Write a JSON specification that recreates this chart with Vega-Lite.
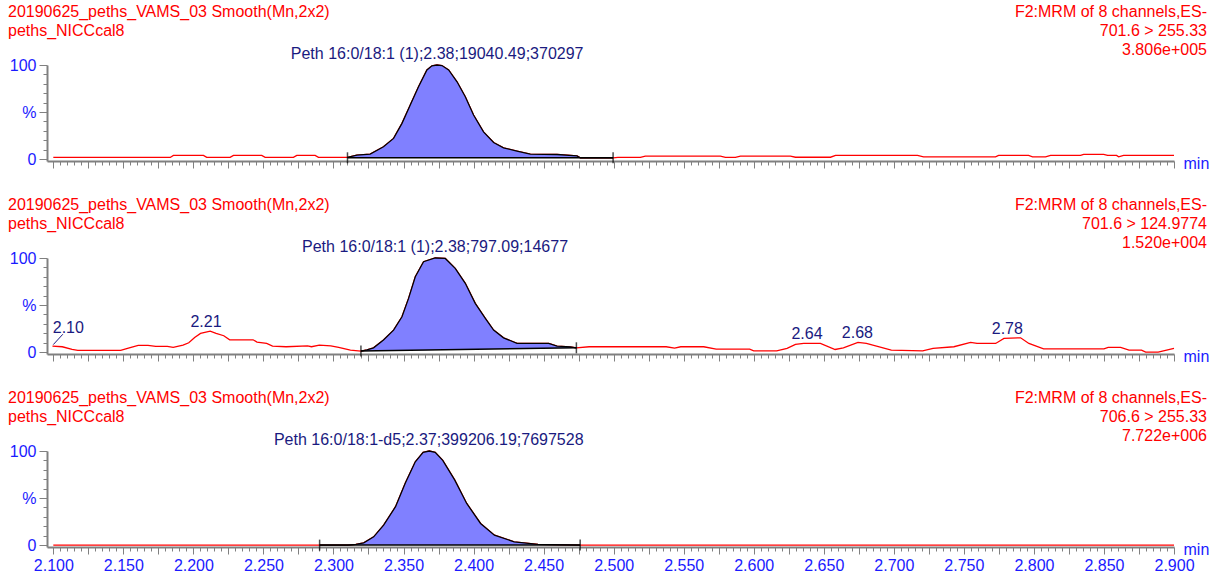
{
  "$schema": "https://vega.github.io/schema/vega-lite/v6.json",
  "padding": {"left": 8, "top": 4, "right": 5, "bottom": 5},
  "background": "white",
  "config": {
    "view": {"stroke": null},
    "font": "Liberation Sans",
    "axis": {"domainColor": "#808080", "domainWidth": 2, "tickColor": "#808080", "tickWidth": 1, "labelColor": "#1a1aff", "labelFontSize": 16, "labelFont": "Liberation Sans", "titleColor": "#1a1aff", "titleFontSize": 16, "titleFontWeight": "normal", "titleFont": "Liberation Sans", "grid": false},
    "text": {"font": "Liberation Sans", "fontSize": 16}
  },
  "datasets": {
    "trace": [
      {"p":1,"rt":2.100,"i":1.8},{"p":1,"rt":2.1835,"i":1.8},{"p":1,"rt":2.1857,"i":3.9},{"p":1,"rt":2.2072,"i":3.9},{"p":1,"rt":2.2095,"i":1.8},{"p":1,"rt":2.2262,"i":1.8},{"p":1,"rt":2.2286,"i":3.9},{"p":1,"rt":2.2488,"i":3.9},{"p":1,"rt":2.2512,"i":1.8},{"p":1,"rt":2.2714,"i":1.8},{"p":1,"rt":2.2738,"i":3.9},{"p":1,"rt":2.2869,"i":3.9},{"p":1,"rt":2.2893,"i":1.8},
      {"p":1,"rt":2.3100,"i":1.8,"base":1.4},{"p":1,"rt":2.3167,"i":4.3,"base":1.4},{"p":1,"rt":2.3262,"i":5.3,"base":1.4},{"p":1,"rt":2.3357,"i":13.1,"base":1.4},{"p":1,"rt":2.3429,"i":22.0,"base":1.4},{"p":1,"rt":2.3489,"i":38.0,"base":1.4},{"p":1,"rt":2.3548,"i":57.4,"base":1.4},{"p":1,"rt":2.3607,"i":76.9,"base":1.4},{"p":1,"rt":2.3667,"i":94.7,"base":1.4},{"p":1,"rt":2.3703,"i":99.2,"base":1.4},{"p":1,"rt":2.3739,"i":100,"base":1.4},{"p":1,"rt":2.3774,"i":99.4,"base":1.4},{"p":1,"rt":2.3822,"i":94.7,"base":1.4},{"p":1,"rt":2.3882,"i":82.2,"base":1.4},{"p":1,"rt":2.3941,"i":66.3,"base":1.4},{"p":1,"rt":2.4000,"i":46.8,"base":1.4},{"p":1,"rt":2.4071,"i":29.0,"base":1.4},{"p":1,"rt":2.4143,"i":17.7,"base":1.4},{"p":1,"rt":2.4214,"i":12.0,"base":1.4},{"p":1,"rt":2.4310,"i":8.5,"base":1.4},{"p":1,"rt":2.4405,"i":5.3,"base":1.4},{"p":1,"rt":2.4596,"i":4.9,"base":1.4},{"p":1,"rt":2.4738,"i":3.5,"base":1.4},{"p":1,"rt":2.4762,"i":1.4,"base":1.4},{"p":1,"rt":2.4996,"i":1.4,"base":1.4},
      {"p":1,"rt":2.5030,"i":1.8},{"p":1,"rt":2.5191,"i":1.8},{"p":1,"rt":2.5226,"i":3.2},{"p":1,"rt":2.5762,"i":3.2},{"p":1,"rt":2.5798,"i":1.8},{"p":1,"rt":2.5869,"i":1.8},{"p":1,"rt":2.5905,"i":3.2},{"p":1,"rt":2.6262,"i":3.2},{"p":1,"rt":2.6298,"i":2.0},{"p":1,"rt":2.6548,"i":2.0},{"p":1,"rt":2.6584,"i":3.9},{"p":1,"rt":2.7169,"i":3.9},{"p":1,"rt":2.7212,"i":2.4},{"p":1,"rt":2.7726,"i":2.4},{"p":1,"rt":2.7748,"i":3.9},{"p":1,"rt":2.7962,"i":3.9},{"p":1,"rt":2.7990,"i":2.4},{"p":1,"rt":2.8083,"i":2.4},{"p":1,"rt":2.8119,"i":3.9},{"p":1,"rt":2.8333,"i":3.9},{"p":1,"rt":2.8355,"i":5.0},{"p":1,"rt":2.8498,"i":5.0},{"p":1,"rt":2.8526,"i":3.9},{"p":1,"rt":2.8590,"i":3.9},{"p":1,"rt":2.8605,"i":2.4},{"p":1,"rt":2.8640,"i":3.9},{"p":1,"rt":2.9000,"i":3.9},
      {"p":2,"rt":2.0994,"i":6.4},{"p":2,"rt":2.1064,"i":5.7},{"p":2,"rt":2.1134,"i":2.8},{"p":2,"rt":2.1175,"i":1.8},{"p":2,"rt":2.1481,"i":1.8},{"p":2,"rt":2.1536,"i":4.3},{"p":2,"rt":2.1606,"i":7.1},{"p":2,"rt":2.1676,"i":7.1},{"p":2,"rt":2.1731,"i":6.0},{"p":2,"rt":2.1814,"i":6.0},{"p":2,"rt":2.1856,"i":5.0},{"p":2,"rt":2.1926,"i":7.4},{"p":2,"rt":2.1967,"i":9.9},{"p":2,"rt":2.2009,"i":15.6},{"p":2,"rt":2.2051,"i":19.9},{"p":2,"rt":2.2120,"i":22.3},{"p":2,"rt":2.2162,"i":19.9},{"p":2,"rt":2.2217,"i":17.4},{"p":2,"rt":2.2259,"i":13.1},{"p":2,"rt":2.2426,"i":13.1},{"p":2,"rt":2.2454,"i":10.6},{"p":2,"rt":2.2523,"i":9.2},{"p":2,"rt":2.2565,"i":6.4},{"p":2,"rt":2.2662,"i":5.7},{"p":2,"rt":2.2815,"i":6.7},{"p":2,"rt":2.2843,"i":5.7},{"p":2,"rt":2.2899,"i":7.4},{"p":2,"rt":2.2981,"i":6.7},{"p":2,"rt":2.3037,"i":5.0},{"p":2,"rt":2.3121,"i":2.1},
      {"p":2,"rt":2.3196,"i":1.1,"base":1.1},{"p":2,"rt":2.3239,"i":2.5,"base":1.2},{"p":2,"rt":2.3286,"i":4.6,"base":1.3},{"p":2,"rt":2.3357,"i":12.8,"base":1.5},{"p":2,"rt":2.3429,"i":23.4,"base":1.6},{"p":2,"rt":2.3489,"i":37.6,"base":1.8},{"p":2,"rt":2.3536,"i":57.1,"base":1.9},{"p":2,"rt":2.3584,"i":80.1,"base":2.0},{"p":2,"rt":2.3643,"i":96.1,"base":2.1},{"p":2,"rt":2.3726,"i":100,"base":2.3},{"p":2,"rt":2.3798,"i":99.5,"base":2.5},{"p":2,"rt":2.3869,"i":89.0,"base":2.6},{"p":2,"rt":2.3941,"i":73.1,"base":2.8},{"p":2,"rt":2.4012,"i":51.8,"base":3.0},{"p":2,"rt":2.4084,"i":35.9,"base":3.1},{"p":2,"rt":2.4143,"i":23.4,"base":3.3},{"p":2,"rt":2.4214,"i":15.2,"base":3.4},{"p":2,"rt":2.4310,"i":9.3,"base":3.6},{"p":2,"rt":2.4536,"i":9.3,"base":4.1},{"p":2,"rt":2.4596,"i":6.4,"base":4.3},{"p":2,"rt":2.4691,"i":5.6,"base":4.5},{"p":2,"rt":2.4734,"i":4.6,"base":4.6},
      {"p":2,"rt":2.4825,"i":5.7},{"p":2,"rt":2.5375,"i":5.7},{"p":2,"rt":2.5435,"i":4.3},{"p":2,"rt":2.5479,"i":5.7},{"p":2,"rt":2.5643,"i":5.7},{"p":2,"rt":2.5732,"i":3.2},{"p":2,"rt":2.5971,"i":3.2},{"p":2,"rt":2.6000,"i":1.4},{"p":2,"rt":2.6164,"i":1.4},{"p":2,"rt":2.6238,"i":3.9},{"p":2,"rt":2.6298,"i":8.2},{"p":2,"rt":2.6357,"i":9.2},{"p":2,"rt":2.6476,"i":9.2},{"p":2,"rt":2.6581,"i":2.8},{"p":2,"rt":2.6640,"i":4.6},{"p":2,"rt":2.6744,"i":10.3},{"p":2,"rt":2.6804,"i":9.2},{"p":2,"rt":2.6982,"i":2.1},{"p":2,"rt":2.7206,"i":1.4},{"p":2,"rt":2.7280,"i":3.9},{"p":2,"rt":2.7429,"i":5.7},{"p":2,"rt":2.7548,"i":10.3},{"p":2,"rt":2.7594,"i":9.2},{"p":2,"rt":2.7727,"i":9.2},{"p":2,"rt":2.7786,"i":14.6},{"p":2,"rt":2.7905,"i":15.2},{"p":2,"rt":2.7964,"i":9.2},{"p":2,"rt":2.8069,"i":3.5},{"p":2,"rt":2.8500,"i":3.5},{"p":2,"rt":2.8530,"i":5.0},{"p":2,"rt":2.8619,"i":5.0},{"p":2,"rt":2.8679,"i":2.1},{"p":2,"rt":2.8768,"i":2.1},{"p":2,"rt":2.8798,"i":0},{"p":2,"rt":2.8887,"i":0},{"p":2,"rt":2.9000,"i":3.9},
      {"p":3,"rt":2.100,"i":0},
      {"p":3,"rt":2.2901,"i":0,"base":0},{"p":3,"rt":2.3104,"i":0,"base":0},{"p":3,"rt":2.3160,"i":0.8,"base":0},{"p":3,"rt":2.3216,"i":2.5,"base":0},{"p":3,"rt":2.3287,"i":8.8,"base":0},{"p":3,"rt":2.3358,"i":21.3,"base":0},{"p":3,"rt":2.3443,"i":40.8,"base":0},{"p":3,"rt":2.3513,"i":66.0,"base":0},{"p":3,"rt":2.3584,"i":88.5,"base":0},{"p":3,"rt":2.3640,"i":98.5,"base":0},{"p":3,"rt":2.3684,"i":100,"base":0},{"p":3,"rt":2.3726,"i":98.5,"base":0},{"p":3,"rt":2.3780,"i":90.0,"base":0},{"p":3,"rt":2.3866,"i":69.0,"base":0},{"p":3,"rt":2.3951,"i":44.3,"base":0},{"p":3,"rt":2.4050,"i":23.0,"base":0},{"p":3,"rt":2.4149,"i":10.6,"base":0},{"p":3,"rt":2.4290,"i":3.5,"base":0},{"p":3,"rt":2.4460,"i":0.7,"base":0},{"p":3,"rt":2.4761,"i":0,"base":0},
      {"p":3,"rt":2.900,"i":0}
    ],
    "integration": [
      {"p":1,"t0":2.3100,"t1":2.4996,"b0":1.4,"b1":1.4},
      {"p":2,"t0":2.3196,"t1":2.4734,"b0":1.1,"b1":4.6},
      {"p":3,"t0":2.2901,"t1":2.4761,"b0":0,"b1":0}
    ],
    "peaklabels": [
      {"p":1,"rt":2.374,"text":"Peth 16:0/18:1 (1);2.38;19040.49;370297"},
      {"p":2,"rt":2.3725,"text":"Peth 16:0/18:1 (1);2.38;797.09;14677"},
      {"p":3,"rt":2.368,"text":"Peth 16:0/18:1-d5;2.37;399206.19;7697528"}
    ],
    "rtlabels": [
      {"p":2,"rt":2.100,"i":8,"text":"2.10"},
      {"p":2,"rt":2.209,"i":22.3,"text":"2.21"},
      {"p":2,"rt":2.638,"i":9.2,"text":"2.64"},
      {"p":2,"rt":2.674,"i":10.3,"text":"2.68"},
      {"p":2,"rt":2.781,"i":15.2,"text":"2.78"}
    ],
    "headers": [
      {"p":1,"side":"left","text":"20190625_peths_VAMS_03 Smooth(Mn,2x2)\npeths_NICCcal8"},
      {"p":1,"side":"right","text":"F2:MRM of 8 channels,ES-\n701.6 > 255.33\n3.806e+005"},
      {"p":2,"side":"left","text":"20190625_peths_VAMS_03 Smooth(Mn,2x2)\npeths_NICCcal8"},
      {"p":2,"side":"right","text":"F2:MRM of 8 channels,ES-\n701.6 > 124.9774\n1.520e+004"},
      {"p":3,"side":"left","text":"20190625_peths_VAMS_03 Smooth(Mn,2x2)\npeths_NICCcal8"},
      {"p":3,"side":"right","text":"F2:MRM of 8 channels,ES-\n706.6 > 255.33\n7.722e+006"}
    ]
  },
  "vconcat": [
    {
      "width": 1127, "height": 96,
      "layer": [
        {"data": {"name": "trace"}, "transform": [{"filter": "datum.p == 1"}], "mark": {"type": "line", "color": "#ff0000", "strokeWidth": 1.3},
         "encoding": {
          "x": {"field": "rt", "type": "quantitative", "scale": {"domain": [2.0955, 2.9], "nice": false, "zero": false},
            "axis": {"tickCount": 160, "tickSize": {"condition": {"test": "abs(datum.value*40 - round(datum.value*40)) < 0.01", "value": 7}, "value": 4}, "labels": false, "labelOverlap": false, "title": "min", "titleX": 1136, "titleY": 2, "titleAlign": "left", "titleBaseline": "middle", "titleAngle": 0}},
          "y": {"field": "i", "type": "quantitative", "scale": {"domain": [-2, 100], "nice": false, "zero": false},
            "axis": {"tickCount": 10, "tickSize": {"condition": {"test": "datum.value % 50 === 0", "value": 8}, "value": 4}, "labelExpr": "datum.value == 100 ? '100' : datum.value == 50 ? '%' : datum.value == 0 ? '0' : ''", "labelPadding": 3, "labelOverlap": false, "labelFlush": false, "labelBaseline": "middle", "title": null}}}},
        {"data": {"name": "trace"}, "transform": [{"filter": "datum.p == 1 && isValid(datum.base)"}], "mark": {"type": "area", "color": "#8080ff", "opacity": 1}, "encoding": {"x": {"field": "rt", "type": "quantitative"}, "y": {"field": "i", "type": "quantitative"}, "y2": {"field": "base"}}},
        {"data": {"name": "trace"}, "transform": [{"filter": "datum.p == 1 && isValid(datum.base)"}], "mark": {"type": "line", "color": "#000000", "strokeWidth": 1.3}, "encoding": {"x": {"field": "rt", "type": "quantitative"}, "y": {"field": "i", "type": "quantitative"}}},
        {"data": {"name": "integration"}, "transform": [{"filter": "datum.p == 1"}], "mark": {"type": "rule", "color": "#000000", "strokeWidth": 1.5}, "encoding": {"x": {"field": "t0", "type": "quantitative"}, "x2": {"field": "t1"}, "y": {"field": "b0", "type": "quantitative"}, "y2": {"field": "b1"}}},
        {"data": {"name": "integration"}, "transform": [{"filter": "datum.p == 1"}], "mark": {"type": "tick", "orient": "vertical", "size": 11, "thickness": 1.5, "color": "#000000"}, "encoding": {"x": {"field": "t0", "type": "quantitative"}, "y": {"field": "b0", "type": "quantitative"}}},
        {"data": {"name": "integration"}, "transform": [{"filter": "datum.p == 1"}], "mark": {"type": "tick", "orient": "vertical", "size": 11, "thickness": 1.5, "color": "#000000"}, "encoding": {"x": {"field": "t1", "type": "quantitative"}, "y": {"field": "b1", "type": "quantitative"}}},
        {"data": {"name": "peaklabels"}, "transform": [{"filter": "datum.p == 1"}], "mark": {"type": "text", "color": "#1a1a80", "baseline": "middle", "align": "center", "dy": -11}, "encoding": {"x": {"field": "rt", "type": "quantitative"}, "y": {"datum": 100, "type": "quantitative"}, "text": {"field": "text"}}},
        {"data": {"name": "headers"}, "transform": [{"filter": "datum.p == 1 && datum.side == 'left'"}], "mark": {"type": "text", "color": "#ff0000", "align": "left", "baseline": "top", "dx": -39, "dy": -61, "lineBreak": "\n", "lineHeight": 19}, "encoding": {"x": {"datum": 2.0955, "type": "quantitative"}, "y": {"datum": 100, "type": "quantitative"}, "text": {"field": "text"}}},
        {"data": {"name": "headers"}, "transform": [{"filter": "datum.p == 1 && datum.side == 'right'"}], "mark": {"type": "text", "color": "#ff0000", "align": "right", "baseline": "top", "dx": 33, "dy": -61, "lineBreak": "\n", "lineHeight": 19}, "encoding": {"x": {"datum": 2.9, "type": "quantitative"}, "y": {"datum": 100, "type": "quantitative"}, "text": {"field": "text"}}}
      ]
    },
    {
      "width": 1127, "height": 96,
      "layer": [
        {"data": {"name": "trace"}, "transform": [{"filter": "datum.p == 2"}], "mark": {"type": "line", "color": "#ff0000", "strokeWidth": 1.3},
         "encoding": {
          "x": {"field": "rt", "type": "quantitative", "scale": {"domain": [2.0955, 2.9], "nice": false, "zero": false},
            "axis": {"tickCount": 160, "tickSize": {"condition": {"test": "abs(datum.value*40 - round(datum.value*40)) < 0.01", "value": 7}, "value": 4}, "labels": false, "labelOverlap": false, "title": "min", "titleX": 1136, "titleY": 2, "titleAlign": "left", "titleBaseline": "middle", "titleAngle": 0}},
          "y": {"field": "i", "type": "quantitative", "scale": {"domain": [-2, 100], "nice": false, "zero": false},
            "axis": {"tickCount": 10, "tickSize": {"condition": {"test": "datum.value % 50 === 0", "value": 8}, "value": 4}, "labelExpr": "datum.value == 100 ? '100' : datum.value == 50 ? '%' : datum.value == 0 ? '0' : ''", "labelPadding": 3, "labelOverlap": false, "labelFlush": false, "labelBaseline": "middle", "title": null}}}},
        {"data": {"name": "trace"}, "transform": [{"filter": "datum.p == 2 && isValid(datum.base)"}], "mark": {"type": "area", "color": "#8080ff", "opacity": 1}, "encoding": {"x": {"field": "rt", "type": "quantitative"}, "y": {"field": "i", "type": "quantitative"}, "y2": {"field": "base"}}},
        {"data": {"name": "trace"}, "transform": [{"filter": "datum.p == 2 && isValid(datum.base)"}], "mark": {"type": "line", "color": "#000000", "strokeWidth": 1.3}, "encoding": {"x": {"field": "rt", "type": "quantitative"}, "y": {"field": "i", "type": "quantitative"}}},
        {"data": {"name": "integration"}, "transform": [{"filter": "datum.p == 2"}], "mark": {"type": "rule", "color": "#000000", "strokeWidth": 1.5}, "encoding": {"x": {"field": "t0", "type": "quantitative"}, "x2": {"field": "t1"}, "y": {"field": "b0", "type": "quantitative"}, "y2": {"field": "b1"}}},
        {"data": {"name": "integration"}, "transform": [{"filter": "datum.p == 2"}], "mark": {"type": "tick", "orient": "vertical", "size": 11, "thickness": 1.5, "color": "#000000"}, "encoding": {"x": {"field": "t0", "type": "quantitative"}, "y": {"field": "b0", "type": "quantitative"}}},
        {"data": {"name": "integration"}, "transform": [{"filter": "datum.p == 2"}], "mark": {"type": "tick", "orient": "vertical", "size": 11, "thickness": 1.5, "color": "#000000"}, "encoding": {"x": {"field": "t1", "type": "quantitative"}, "y": {"field": "b1", "type": "quantitative"}}},
        {"data": {"name": "peaklabels"}, "transform": [{"filter": "datum.p == 2"}], "mark": {"type": "text", "color": "#1a1a80", "baseline": "middle", "align": "center", "dy": -11}, "encoding": {"x": {"field": "rt", "type": "quantitative"}, "y": {"datum": 100, "type": "quantitative"}, "text": {"field": "text"}}},
        {"data": {"name": "rtlabels"}, "transform": [{"filter": "datum.p == 2 && datum.text != '2.10'"}], "mark": {"type": "text", "color": "#1a1a80", "baseline": "middle", "align": "center", "dy": -9}, "encoding": {"x": {"field": "rt", "type": "quantitative"}, "y": {"field": "i", "type": "quantitative"}, "text": {"field": "text"}}},
        {"data": {"name": "rtlabels"}, "transform": [{"filter": "datum.p == 2 && datum.text == '2.10'"}], "mark": {"type": "text", "color": "#1a1a80", "baseline": "middle", "align": "center", "dx": 15, "dy": -17}, "encoding": {"x": {"field": "rt", "type": "quantitative"}, "y": {"field": "i", "type": "quantitative"}, "text": {"field": "text"}}},
        {"data": {"name": "rtlabels"}, "transform": [{"filter": "datum.p == 2 && datum.text == '2.10'"}], "mark": {"type": "rule", "color": "#1a1a80", "strokeWidth": 1}, "encoding": {"x": {"field": "rt", "type": "quantitative"}, "y": {"field": "i", "type": "quantitative"}, "x2": {"datum": 2.1068}, "y2": {"datum": 19}}},
        {"data": {"name": "headers"}, "transform": [{"filter": "datum.p == 2 && datum.side == 'left'"}], "mark": {"type": "text", "color": "#ff0000", "align": "left", "baseline": "top", "dx": -39, "dy": -61, "lineBreak": "\n", "lineHeight": 19}, "encoding": {"x": {"datum": 2.0955, "type": "quantitative"}, "y": {"datum": 100, "type": "quantitative"}, "text": {"field": "text"}}},
        {"data": {"name": "headers"}, "transform": [{"filter": "datum.p == 2 && datum.side == 'right'"}], "mark": {"type": "text", "color": "#ff0000", "align": "right", "baseline": "top", "dx": 33, "dy": -61, "lineBreak": "\n", "lineHeight": 19}, "encoding": {"x": {"datum": 2.9, "type": "quantitative"}, "y": {"datum": 100, "type": "quantitative"}, "text": {"field": "text"}}}
      ]
    },
    {
      "width": 1127, "height": 96,
      "layer": [
        {"data": {"name": "trace"}, "transform": [{"filter": "datum.p == 3"}], "mark": {"type": "line", "color": "#ff0000", "strokeWidth": 1.3},
         "encoding": {
          "x": {"field": "rt", "type": "quantitative", "scale": {"domain": [2.0955, 2.9], "nice": false, "zero": false},
            "axis": {"tickCount": 160, "tickSize": {"condition": {"test": "abs(datum.value*40 - round(datum.value*40)) < 0.01", "value": 7}, "value": 4}, "labels": true, "labelExpr": "abs(datum.value*20 - round(datum.value*20)) < 0.01 ? format(datum.value, '.3f') : ''", "labelOverlap": false, "labelFlush": false, "labelPadding": 3, "title": "min", "titleX": 1136, "titleY": 2, "titleAlign": "left", "titleBaseline": "middle", "titleAngle": 0}},
          "y": {"field": "i", "type": "quantitative", "scale": {"domain": [-2, 100], "nice": false, "zero": false},
            "axis": {"tickCount": 10, "tickSize": {"condition": {"test": "datum.value % 50 === 0", "value": 8}, "value": 4}, "labelExpr": "datum.value == 100 ? '100' : datum.value == 50 ? '%' : datum.value == 0 ? '0' : ''", "labelPadding": 3, "labelOverlap": false, "labelFlush": false, "labelBaseline": "middle", "title": null}}}},
        {"data": {"name": "trace"}, "transform": [{"filter": "datum.p == 3 && isValid(datum.base)"}], "mark": {"type": "area", "color": "#8080ff", "opacity": 1}, "encoding": {"x": {"field": "rt", "type": "quantitative"}, "y": {"field": "i", "type": "quantitative"}, "y2": {"field": "base"}}},
        {"data": {"name": "trace"}, "transform": [{"filter": "datum.p == 3 && isValid(datum.base)"}], "mark": {"type": "line", "color": "#000000", "strokeWidth": 1.3}, "encoding": {"x": {"field": "rt", "type": "quantitative"}, "y": {"field": "i", "type": "quantitative"}}},
        {"data": {"name": "integration"}, "transform": [{"filter": "datum.p == 3"}], "mark": {"type": "rule", "color": "#000000", "strokeWidth": 1.5}, "encoding": {"x": {"field": "t0", "type": "quantitative"}, "x2": {"field": "t1"}, "y": {"field": "b0", "type": "quantitative"}, "y2": {"field": "b1"}}},
        {"data": {"name": "integration"}, "transform": [{"filter": "datum.p == 3"}], "mark": {"type": "tick", "orient": "vertical", "size": 11, "thickness": 1.5, "color": "#000000"}, "encoding": {"x": {"field": "t0", "type": "quantitative"}, "y": {"field": "b0", "type": "quantitative"}}},
        {"data": {"name": "integration"}, "transform": [{"filter": "datum.p == 3"}], "mark": {"type": "tick", "orient": "vertical", "size": 11, "thickness": 1.5, "color": "#000000"}, "encoding": {"x": {"field": "t1", "type": "quantitative"}, "y": {"field": "b1", "type": "quantitative"}}},
        {"data": {"name": "peaklabels"}, "transform": [{"filter": "datum.p == 3"}], "mark": {"type": "text", "color": "#1a1a80", "baseline": "middle", "align": "center", "dy": -11}, "encoding": {"x": {"field": "rt", "type": "quantitative"}, "y": {"datum": 100, "type": "quantitative"}, "text": {"field": "text"}}},
        {"data": {"name": "headers"}, "transform": [{"filter": "datum.p == 3 && datum.side == 'left'"}], "mark": {"type": "text", "color": "#ff0000", "align": "left", "baseline": "top", "dx": -39, "dy": -61, "lineBreak": "\n", "lineHeight": 19}, "encoding": {"x": {"datum": 2.0955, "type": "quantitative"}, "y": {"datum": 100, "type": "quantitative"}, "text": {"field": "text"}}},
        {"data": {"name": "headers"}, "transform": [{"filter": "datum.p == 3 && datum.side == 'right'"}], "mark": {"type": "text", "color": "#ff0000", "align": "right", "baseline": "top", "dx": 33, "dy": -61, "lineBreak": "\n", "lineHeight": 19}, "encoding": {"x": {"datum": 2.9, "type": "quantitative"}, "y": {"datum": 100, "type": "quantitative"}, "text": {"field": "text"}}}
      ]
    }
  ],
  "spacing": 97,
  "bounds": "flush"
}
